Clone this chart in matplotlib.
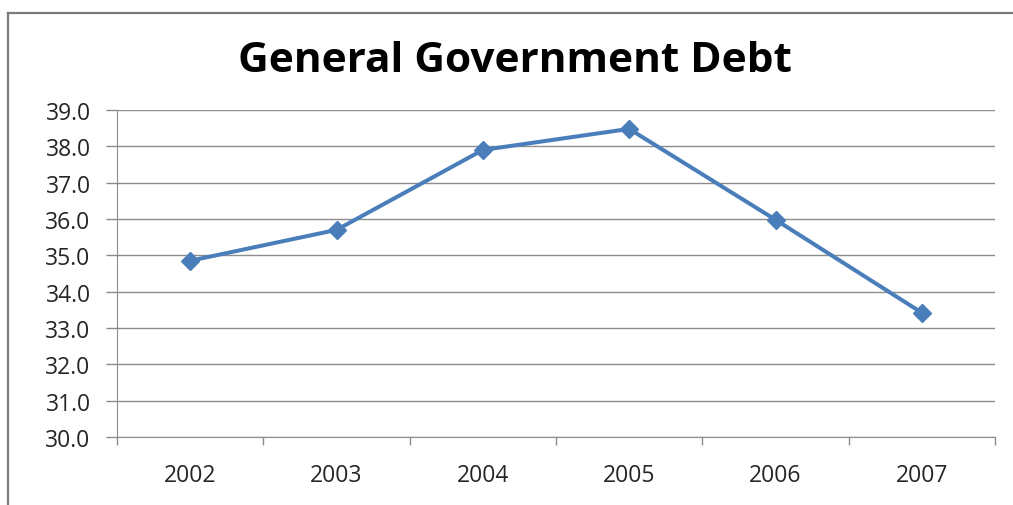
import matplotlib
matplotlib.use("Agg")
import matplotlib.pyplot as plt
from matplotlib.lines import Line2D

years = ["2002", "2003", "2004", "2005", "2006", "2007"]
debt = [34.85, 35.70, 37.90, 38.48, 35.98, 33.42]
yticks = [30.0, 31.0, 32.0, 33.0, 34.0, 35.0, 36.0, 37.0, 38.0, 39.0]

plt.rcParams['font.family'] = ['Open Sans', 'DejaVu Sans']

fig = plt.figure(figsize=(10.13, 5.06), dpi=100)
fig.patch.set_facecolor('white')

W, H = 1013, 506
# outer chart border (left and top only visible)
fig.lines.append(Line2D([8 / W, 8 / W], [0, 1 - 14 / H], transform=fig.transFigure,
                        color='#7a7a7a', linewidth=1.6))
fig.lines.append(Line2D([8 / W, 1], [1 - 14 / H, 1 - 14 / H], transform=fig.transFigure,
                        color='#7a7a7a', linewidth=1.6))

ax = fig.add_axes([117 / W, 1 - 438 / H, (995 - 117) / W, (438 - 111) / H])

x = list(range(len(years)))
ax.plot(x, debt, color='#4a7ebb', linewidth=2.9, marker='D', markersize=9.5,
        markerfacecolor='#4a7ebb', markeredgecolor='#4a7ebb', zorder=3)

ax.set_xlim(-0.5, len(years) - 0.5)
ax.set_ylim(30, 39)
ax.set_yticks(yticks)
ax.set_yticklabels([f"{v:.1f}" for v in yticks], fontsize=16.5, color='#262626')
ax.set_xticks(x)
ax.set_xticklabels(years, fontsize=16.5, color='#262626')
ax.tick_params(axis='x', length=0, pad=19)
ax.set_xticks([i - 0.5 for i in range(len(years) + 1)], minor=True)
ax.tick_params(axis='x', which='minor', length=6, color='#8c8c8c', width=1, direction='out')
ax.tick_params(axis='y', length=8, color='#8c8c8c', width=1, pad=11)

ax.grid(axis='y', color='#8c8c8c', linewidth=1)
ax.set_axisbelow(True)
for s in ['top', 'right']:
    ax.spines[s].set_visible(False)
ax.spines['left'].set_color('#8c8c8c')
ax.spines['bottom'].set_color('#8c8c8c')

fig.text(515 / W, 1 - 61 / H, "General Government Debt", ha='center', va='center',
         fontsize=30.5, fontweight='bold', color='black')

fig.savefig("out.png", dpi=100, facecolor='white')
